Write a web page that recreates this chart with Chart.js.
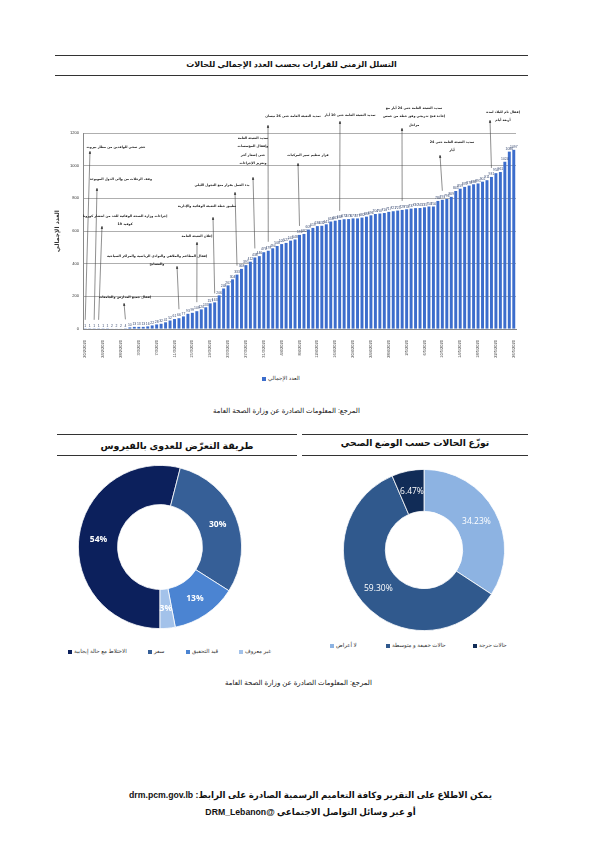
<!DOCTYPE html>
<html lang="ar">
<head>
<meta charset="utf-8">
<title>التسلل الزمني للقرارات</title>
<script src="https://cdn.jsdelivr.net/npm/chart.js@4.4.1/dist/chart.umd.min.js"></script>
<style>
  html, body { margin: 0; padding: 0; background: #fff; }
  body { width: 601px; height: 850px; position: relative; overflow: hidden;
         font-family: "Liberation Sans", "DejaVu Sans", sans-serif; color: #111; }
  .hline { position: absolute; height: 0; border-top: 1px solid #333; }
  .txt { position: absolute; white-space: nowrap; direction: rtl; text-align: center; }
  .bold { font-weight: bold; }
  .leg { position: absolute; white-space: nowrap; font-size: 5.5px; color: #333; direction: rtl; }
  .box { position: absolute; width: 4px; height: 4px; }
  canvas { position: absolute; }
</style>
</head>
<body>

<!-- top block -->
<div class="hline" style="left:55px; top:55px; width:473px;"></div>
<div class="txt bold" style="left:55px; width:473px; top:60px; font-size:8px;">التسلل الزمني للقرارات بحسب العدد الإجمالي للحالات</div>
<div class="hline" style="left:55px; top:75px; width:473px;"></div>

<canvas id="barChart" width="476" height="270" style="left:54px; top:95px;"></canvas>
<div id="barLegend"></div>

<div class="txt" style="left:50px; width:473px; top:407px; font-size:7px;">المرجع: المعلومات الصادرة عن وزارة الصحة العامة</div>

<!-- lower panels -->
<div class="hline" style="left:57px; top:434px; width:240px;"></div>
<div class="hline" style="left:57px; top:455px; width:240px;"></div>
<div class="txt bold" style="left:57px; width:240px; top:440px; font-size:9.5px;">طريقة التعرّض للعدوى بالفيروس</div>

<div class="hline" style="left:302px; top:434px; width:226px;"></div>
<div class="hline" style="left:302px; top:455px; width:226px;"></div>
<div class="txt bold" style="left:302px; width:226px; top:437px; font-size:9.2px;">توزّع الحالات حسب الوضع الصحي</div>

<canvas id="exposureChart" width="164" height="164" style="left:78px; top:465px;"></canvas>
<canvas id="healthChart" width="162" height="162" style="left:343px; top:469px;"></canvas>
<div id="exposureLegend"></div>
<div id="healthLegend"></div>

<div class="txt" style="left:62px; width:473px; top:679px; font-size:7px;">المرجع: المعلومات الصادرة عن وزارة الصحة العامة</div>

<!-- footer -->
<div class="txt bold" style="left:55px; width:511px; top:790px; font-size:8.7px;">يمكن الاطلاع على التقرير وكافة التعاميم الرسمية الصادرة على الرابط: drm.pcm.gov.lb</div>
<div class="txt bold" style="left:55px; width:511px; top:807px; font-size:8.7px;">أو عبر وسائل التواصل الاجتماعي @DRM_Lebanon</div>

<script>
// ---- DATA ----
const categories = [
    '20/2/2020','21/2/2020','22/2/2020','23/2/2020','24/2/2020','25/2/2020','26/2/2020','27/2/2020','28/2/2020','29/2/2020',
    '1/3/2020','2/3/2020','3/3/2020','4/3/2020','5/3/2020','6/3/2020','7/3/2020','8/3/2020','9/3/2020','10/3/2020',
    '11/3/2020','12/3/2020','13/3/2020','14/3/2020','15/3/2020','16/3/2020','17/3/2020','18/3/2020','19/3/2020','20/3/2020',
    '21/3/2020','22/3/2020','23/3/2020','24/3/2020','25/3/2020','26/3/2020','27/3/2020','28/3/2020','29/3/2020','30/3/2020','31/3/2020',
    '1/4/2020','2/4/2020','3/4/2020','4/4/2020','5/4/2020','6/4/2020','7/4/2020','8/4/2020','9/4/2020','10/4/2020',
    '11/4/2020','12/4/2020','13/4/2020','14/4/2020','15/4/2020','16/4/2020','17/4/2020','18/4/2020','19/4/2020','20/4/2020',
    '21/4/2020','22/4/2020','23/4/2020','24/4/2020','25/4/2020','26/4/2020','27/4/2020','28/4/2020','29/4/2020','30/4/2020',
    '1/5/2020','2/5/2020','3/5/2020','4/5/2020','5/5/2020','6/5/2020','7/5/2020','8/5/2020','9/5/2020','10/5/2020',
    '11/5/2020','12/5/2020','13/5/2020','14/5/2020','15/5/2020','16/5/2020','17/5/2020','18/5/2020','19/5/2020','20/5/2020',
    '21/5/2020','22/5/2020','23/5/2020','24/5/2020','25/5/2020','26/5/2020'
];
const totalCases = [
    1, 1, 1, 1, 1, 1, 2, 2, 2, 4,
    10, 13, 13, 13, 16, 22, 28, 32, 41, 52,
    61, 66, 77, 93, 99, 109, 120, 133, 157, 163,
    206, 248, 267, 304, 333, 368, 391, 412, 438, 446, 470,
    479, 494, 508, 520, 527, 541, 548, 576, 582, 609,
    619, 630, 632, 641, 658, 663, 668, 672, 673, 677,
    677, 682, 688, 696, 704, 707, 710, 717, 721, 725,
    729, 733, 737, 740, 741, 745, 750, 750, 784, 791,
    796, 809, 845, 859, 870, 878, 886, 891, 902, 911,
    931, 954, 961, 1024, 1086, 1097
];
const yTicks = [0, 200, 400, 600, 800, 1000, 1200];
const seriesLabel = 'العدد الإجمالي';

// decisions pointing at a given day (bar index)
const decisionIndex = [0, 2, 3, 9, 21, 25, 29, 34, 38, 41, 48, 57, 71, 80, 91];
const decisionText = [
    ['حجر صحي للوافدين من مطار بيروت'],
    ['وقف الرحلات من وإلى الدول الموبوءة'],
    ['إجراءات وزارة الصحة الوقائية للحد من انتشار كورونا', 'كوفيد 19'],
    ['إقفال جميع المدارس والجامعات'],
    ['إقفال المطاعم والملاهي والنوادي الرياضية والمراكز السياحية', 'والمسابح'],
    ['إعلان التعبئة العامة'],
    ['تطبيق خطة التعبئة الوقائية والإدارية'],
    ['بدء العمل بقرار منع التجول الليلي'],
    ['تمديد التعبئة العامة', 'وإقفال المؤسسات', 'حتى إشعار آخر', 'وتعزيز الإجراءات'],
    ['تمديد التعبئة العامة حتى 26 نيسان'],
    ['قرار تنظيم سير المركبات'],
    ['تمديد التعبئة العامة حتى 10 أيار'],
    ['تمديد التعبئة العامة حتى 24 أيار مع', 'إعادة فتح تدريجي وفق خطة من خمس', 'مراحل'],
    ['تمديد التعبئة العامة حتى 24', 'أيار'],
    ['إقفال تام للبلاد لمدة', 'أربعة أيام']
];

const exposureLabels = ['الاختلاط مع حالة إيجابية', 'سفر', 'قيد التحقيق', 'غير معروف'];
const exposureValues = [54, 30, 13, 3];

const healthLabels = ['لا أعراض', 'حالات خفيفة و متوسطة', 'حالات حرجة'];
const healthValues = [34.23, 59.30, 6.47];

// ---- LAYOUT / STYLE ----
const BAR_LEFT = 54, BAR_TOP = 95;
const barColor = '#3c6dcc';
// text anchor [x, y of first line] and line top [x, y], page coordinates
const decisionLayout = [
    [116, 147, 90, 151], [121, 179, 97, 188], [125, 216, 102, 226], [125, 297, 124, 303],
    [157, 256, 177, 266], [197, 236, 197, 242], [207, 206, 213, 217], [222, 185, 235, 192],
    [253, 138, 253, 177], [293, 116, 268, 125], [308, 155, 298, 163], [350, 115, 340, 121],
    [414, 108, 402, 128], [452, 142, 440, 155], [503, 112, 490, 120]
];
const exposureColors = ['#0c205c', '#365f97', '#4b84d2', '#a3c2ea'];
const healthColors = ['#8db3e2', '#30598d', '#112c57'];

// 1. BAR CHART EXTRAS: value labels + decision callouts
const barExtras = {
    id: 'barExtras',
    afterDatasetsDraw(chart) {
        const ctx = chart.ctx;
        const meta = chart.getDatasetMeta(0);
        ctx.save();
        ctx.fillStyle = '#34466e';
        ctx.font = '3.4px "Liberation Sans"';
        ctx.textAlign = 'center';
        ctx.textBaseline = 'bottom';
        meta.data.forEach((bar, i) => {
            ctx.fillText(String(totalCases[i]), bar.x, bar.y - 1);
        });

        ctx.strokeStyle = '#444';
        ctx.fillStyle = '#222';
        ctx.lineWidth = 0.6;
        ctx.direction = 'rtl';
        ctx.font = 'bold 3.3px "DejaVu Sans"';
        ctx.textBaseline = 'middle';
        decisionIndex.forEach((idx, k) => {
            const bar = meta.data[idx];
            const [tx, ty, lx, ly] = decisionLayout[k];
            decisionText[k].forEach((line, j) => {
                ctx.fillText(line, tx - BAR_LEFT, ty - BAR_TOP + j * 8.5);
            });
            const x0 = lx - BAR_LEFT, y0 = ly - BAR_TOP;
            const x1 = bar.x, y1 = bar.y - 9;
            ctx.beginPath();
            ctx.moveTo(x0, y0);
            ctx.lineTo(x1, y1);
            ctx.stroke();
            // arrow head at the top
            const a = Math.atan2(y0 - y1, x0 - x1);
            ctx.beginPath();
            ctx.moveTo(x0, y0);
            ctx.lineTo(x0 - 3 * Math.cos(a - 0.4), y0 - 3 * Math.sin(a - 0.4));
            ctx.lineTo(x0 - 3 * Math.cos(a + 0.4), y0 - 3 * Math.sin(a + 0.4));
            ctx.closePath();
            ctx.fill();
        });
        ctx.restore();
    }
};

new Chart(document.getElementById('barChart'), {
    type: 'bar',
    data: {
        labels: categories,
        datasets: [{
            label: seriesLabel,
            data: totalCases,
            backgroundColor: barColor,
            barPercentage: 0.66,
            categoryPercentage: 1
        }]
    },
    options: {
        responsive: false,
        animation: false,
        layout: { padding: { top: 38, right: 14, bottom: 6, left: 0 } },
        plugins: { legend: { display: false }, tooltip: { enabled: false } },
        scales: {
            x: {
                grid: { display: false },
                border: { color: '#888' },
                ticks: {
                    autoSkip: false, maxRotation: 90, minRotation: 90, padding: 3,
                    color: '#333', font: { size: 4, family: 'Liberation Sans' },
                    callback: (v, i) => (i % 4 === 0 ? categories[i] : '')
                },
                afterFit: s => { s.height = 30; }
            },
            y: {
                min: 0, max: 1200,
                afterBuildTicks: s => { s.ticks = yTicks.map(v => ({ value: v })); },
                grid: { color: '#9a9a9a', lineWidth: 0.8, drawTicks: false },
                border: { color: '#888' },
                ticks: {
                    padding: 4, color: '#333', font: { size: 4, family: 'Liberation Sans' },
                    callback: v => String(v)
                },
                title: {
                    display: true, text: seriesLabel, color: '#333',
                    font: { size: 6, weight: 'bold', family: 'DejaVu Sans' }, padding: 0
                },
                afterFit: s => { s.width = 29; }
            }
        }
    },
    plugins: [barExtras]
});

// 2. DOUGHNUTS with labels inside the ring
const sliceLabels = (fmt, bold) => ({
    id: 'sliceLabels',
    afterDatasetsDraw(chart) {
        const ctx = chart.ctx;
        const meta = chart.getDatasetMeta(0);
        const vals = chart.data.datasets[0].data;
        ctx.save();
        ctx.fillStyle = '#fff';
        ctx.font = (bold ? 'bold ' : '') + '8.5px "Open Sans"';
        ctx.textAlign = 'center';
        ctx.textBaseline = 'middle';
        meta.data.forEach((arc, i) => {
            const p = arc.tooltipPosition();
            ctx.fillText(fmt(vals[i]), p.x, p.y);
        });
        ctx.restore();
    }
});

function doughnut(id, labels, values, colors, cutout, rotation, fmt, bold) {
    new Chart(document.getElementById(id), {
        type: 'doughnut',
        data: { labels: labels, datasets: [{ data: values, backgroundColor: colors, borderColor: '#fff', borderWidth: 0.8 }] },
        options: {
            responsive: false, animation: false, cutout: cutout, rotation: rotation,
            plugins: { legend: { display: false }, tooltip: { enabled: false } }
        },
        plugins: [sliceLabels(fmt, bold)]
    });
}
doughnut('exposureChart', exposureLabels, exposureValues, exposureColors, '52%', 180, v => v + '%', true);
doughnut('healthChart', healthLabels, healthValues, healthColors, '48%', 0, v => v.toFixed(2) + '%', false);

// 3. HTML LEGENDS
function legend(id, labels, colors, xs, y) {
    const host = document.getElementById(id);
    labels.forEach((lab, i) => {
        const b = document.createElement('div');
        b.className = 'box';
        b.style.cssText = `left:${xs[i]}px; top:${y - 2}px; background:${colors[i]};`;
        const t = document.createElement('div');
        t.className = 'leg';
        t.textContent = lab;
        t.style.cssText = `left:${xs[i] + 6}px; top:${y - 4}px;`;
        host.appendChild(b);
        host.appendChild(t);
    });
}
legend('barLegend', [seriesLabel], [barColor], [262], 379);
legend('exposureLegend', exposureLabels, exposureColors, [68, 148, 186, 239], 652);
legend('healthLegend', healthLabels, healthColors, [330, 386, 473], 646);
</script>
</body>
</html>
